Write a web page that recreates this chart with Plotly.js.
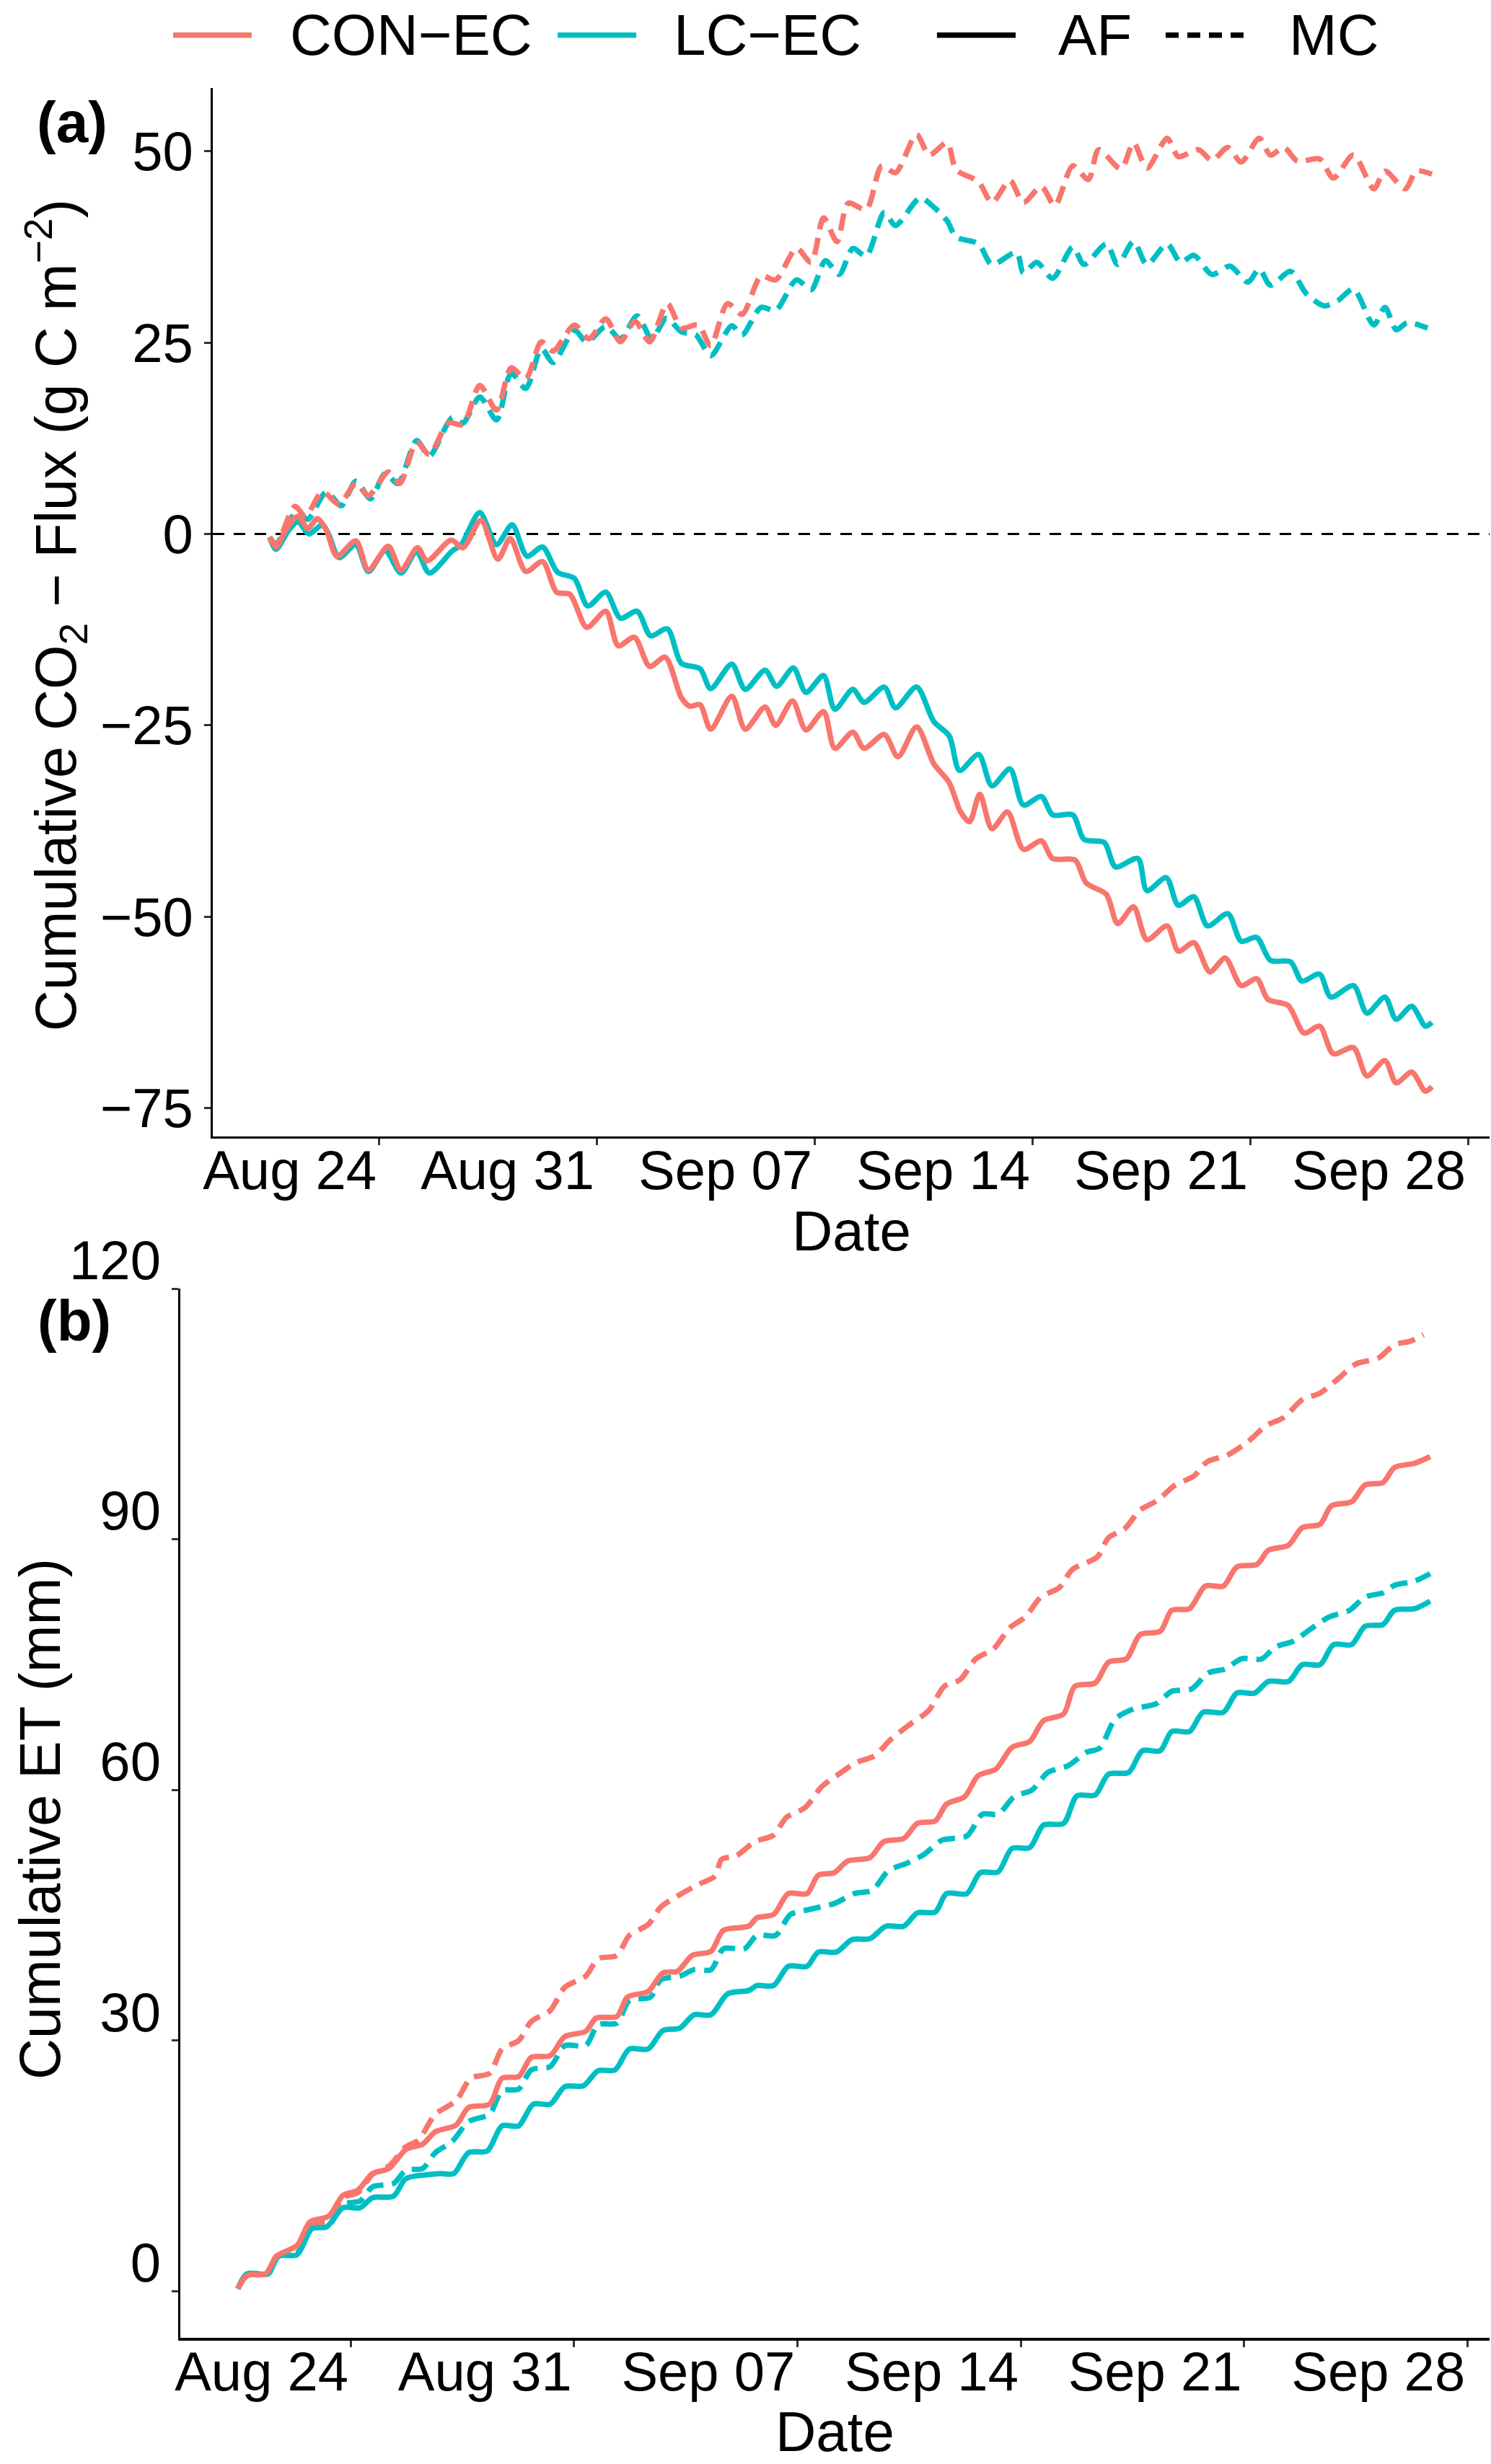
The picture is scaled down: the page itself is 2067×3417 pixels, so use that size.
<!DOCTYPE html>
<html>
<head>
<meta charset="utf-8">
<script src="https://cdn.plot.ly/plotly-3.0.1.min.js"></script>
<style>
  html, body { margin: 0; padding: 0; background: #fff; }
  #chart { width: 2067px; height: 3417px; }
</style>
</head>
<body>
<div id="chart"></div>
<script>
// Cumulative CO2 flux (a) and cumulative ET (b) for CON-EC / LC-EC, AF vs MC
// x values are days after Aug 24 00:00

const dateTicks = [0, 7, 14, 21, 28, 35];
const dateLabels = ['Aug 24', 'Aug 31', 'Sep 07', 'Sep 14', 'Sep 21', 'Sep 28'];

// (a) cumulative CO2 flux, g C m-2
const co2ConAfDay = [-3.51, -3.31, -2.97, -2.6, -2.29, -1.98, -1.69, -1.35, -0.74, -0.34,
    0.30, 0.71, 1.24, 1.55, 2.32, 2.70, 3.28, 3.82, 4.22, 4.72,
    5.26, 5.71, 6.14, 6.68, 7.29, 7.69, 8.21, 8.70, 9.20, 9.72,
    9.99, 10.32, 10.66, 11.34, 11.77, 12.41, 12.75, 13.29, 13.72,
    14.29, 14.65, 15.23, 15.59, 16.24, 16.68, 17.28, 17.83, 18.33, 18.69,
    18.98, 19.31, 19.70, 20.20, 20.71, 21.29, 21.65, 22.37, 22.73, 23.38,
    23.74, 24.25, 24.68, 25.33, 25.69, 26.19, 26.70, 27.20, 27.71, 28.21,
    28.57, 29.22, 29.73, 30.23, 30.67, 31.32, 31.75, 32.33, 32.69, 33.19,
    33.63, 33.84];
const co2ConAfVal = [-0.4, -1.7, 0.7, 2.3, 0.7, 2.0, 0.5, -2.9, -0.9, -4.7,
    -1.6, -4.7, -1.8, -3.5, -0.8, -1.8, 1.8, -3.3, -0.6, -4.9,
    -3.6, -7.6, -7.9, -12.2, -10.1, -14.6, -13.5, -17.3, -16.1, -21.4,
    -22.5, -22.3, -25.5, -21.2, -25.5, -22.6, -25.0, -21.8, -25.6,
    -23.2, -28.0, -25.9, -28.0, -26.2, -29.1, -25.2, -30.0, -32.5, -36.3,
    -37.6, -34.0, -38.5, -36.3, -41.2, -40.1, -42.4, -42.6, -45.6, -47.1,
    -50.9, -48.7, -53.0, -51.2, -54.5, -53.4, -57.2, -55.4, -59.0, -58.1,
    -60.8, -61.6, -65.2, -64.3, -67.9, -67.1, -70.8, -68.8, -71.7, -70.3,
    -72.8, -72.2];

const co2LcAfDay = [-3.51, -3.31, -2.90, -2.60, -2.25, -1.82, -1.62, -1.28, -0.74, -0.34,
    0.20, 0.71, 1.21, 1.62, 2.36, 2.63, 3.24, 3.78, 4.28, 4.76,
    5.26, 5.74, 6.28, 6.71, 7.29, 7.76, 8.30, 8.73, 9.27, 9.72,
    10.32, 10.66, 11.34, 11.77, 12.41, 12.78, 13.32, 13.72,
    14.29, 14.65, 15.23, 15.59, 16.24, 16.60, 17.28, 17.83, 18.33, 18.66,
    19.27, 19.70, 20.28, 20.71, 21.29, 21.65, 22.30, 22.66, 23.31, 23.67,
    24.39, 24.68, 25.30, 25.69, 26.19, 26.63, 27.28, 27.71, 28.21, 28.65,
    29.30, 29.66, 30.23, 30.59, 31.32, 31.75, 32.33, 32.69, 33.19, 33.63, 33.84];
const co2LcAfVal = [-0.4, -2.0, 0.5, 1.6, 0.0, 1.2, 0.0, -3.1, -1.4, -4.9,
    -2.2, -5.1, -2.3, -5.1, -2.2, -1.5, 2.8, -1.4, 1.2, -2.9,
    -1.7, -5.0, -5.8, -9.4, -7.6, -11.0, -10.1, -13.3, -12.4, -16.9,
    -17.6, -20.2, -17.0, -20.3, -17.8, -19.9, -17.5, -20.7,
    -18.5, -22.9, -20.3, -22.0, -20.0, -22.7, -20.0, -24.5, -26.4, -30.9,
    -28.8, -32.9, -30.7, -35.4, -34.3, -36.7, -36.7, -39.9, -40.3, -43.5,
    -42.4, -46.6, -44.9, -48.5, -47.4, -51.2, -49.6, -53.2, -52.7, -55.7,
    -55.9, -58.4, -57.5, -60.5, -59.0, -62.6, -60.5, -63.4, -61.7, -64.3, -63.8];

const co2ConMcDay = [-3.51, -3.31, -2.70, -2.36, -1.82, -1.28, -0.74, -0.34, 0.30, 0.67,
    1.21, 1.62, 2.23, 2.70, 3.24, 3.78, 4.25, 4.72, 5.22, 5.60,
    6.28, 6.75, 7.29, 7.76, 8.23, 8.70, 9.27, 9.72, 10.26, 10.66,
    11.20, 11.67, 12.28, 12.75, 13.42, 13.89,
    14.29, 14.72, 15.08, 15.66, 16.16, 16.60, 17.28, 17.68, 18.26, 18.55,
    19.27, 19.70, 20.28, 20.71, 21.29, 21.72, 22.30, 22.80, 23.13, 23.85,
    24.25, 24.68, 25.33, 25.69, 26.34, 26.77, 27.28, 27.71, 28.29, 28.65,
    29.08, 29.52, 30.23, 30.67, 31.32, 31.97, 32.33, 32.98, 33.34, 33.84];
const co2ConMcVal = [-0.4, -1.5, 3.6, 2.3, 5.5, 3.9, 6.6, 5.0, 8.1, 6.6,
    12.0, 10.4, 14.5, 14.3, 19.4, 16.2, 21.7, 20.3, 25.1, 23.9,
    27.3, 25.5, 28.1, 25.1, 27.8, 25.1, 30.1, 26.9, 27.3, 24.6,
    30.1, 28.7, 33.7, 33.2, 37.3, 35.5,
    41.3, 38.2, 43.2, 42.4, 48.1, 47.2, 52.2, 49.5, 51.1, 47.6,
    46.0, 43.3, 46.2, 43.3, 45.4, 42.9, 48.1, 46.3, 50.2, 47.7,
    51.1, 47.8, 51.7, 49.3, 50.2, 48.8, 50.5, 48.6, 51.7, 49.5,
    50.5, 48.7, 49.0, 46.5, 49.5, 45.1, 47.4, 45.1, 47.4, 47.0];

const co2LcMcDay = [-3.51, -3.31, -2.63, -2.29, -1.69, -1.21, -0.74, -0.27, 0.20, 0.61,
    1.21, 1.62, 2.36, 2.70, 3.24, 3.78, 4.25, 4.72, 5.22, 5.60,
    6.28, 6.68, 7.29, 7.76, 8.30, 8.77, 9.24, 9.72, 10.19, 10.66,
    11.34, 11.67, 12.28, 12.75, 13.42, 13.89,
    14.35, 14.79, 15.23, 15.66, 16.24, 16.60, 17.39, 17.83, 18.26, 18.55,
    19.27, 19.70, 20.49, 20.71, 21.14, 21.65, 22.30, 22.66, 23.38, 23.74,
    24.25, 24.68, 25.33, 25.76, 26.19, 26.77, 27.35, 27.92, 28.29, 28.65,
    29.30, 29.80, 30.38, 30.82, 31.32, 31.97, 32.33, 32.69, 33.05, 33.70];
const co2LcMcVal = [-0.4, -1.3, 3.0, 1.9, 5.5, 3.7, 6.9, 4.6, 7.9, 6.6,
    12.2, 10.2, 15.2, 14.5, 17.9, 14.9, 21.0, 19.0, 24.2, 22.4,
    26.6, 25.1, 27.1, 25.5, 28.5, 25.5, 28.2, 26.4, 26.0, 23.3,
    27.2, 26.0, 29.6, 29.2, 33.2, 31.9,
    35.7, 33.9, 37.3, 36.3, 42.0, 40.3, 43.9, 42.7, 40.9, 38.8,
    37.9, 35.2, 36.8, 34.1, 35.5, 33.4, 37.5, 35.2, 37.9, 35.2,
    38.2, 35.2, 37.9, 35.5, 36.4, 33.9, 35.0, 32.9, 34.6, 32.5,
    34.3, 31.4, 29.8, 30.5, 32.0, 27.3, 29.6, 26.7, 27.6, 26.9];

// (b) cumulative ET, mm
const etConAfDay = [-3.54, -3.25, -2.66, -2.33, -1.68, -1.28, -0.69, -0.24, 0.22, 0.68,
    1.20, 1.73, 2.25, 2.65, 3.30, 3.69, 4.35, 4.74, 5.26, 5.66,
    6.25, 6.71, 7.36, 7.69, 8.34, 8.67, 9.32, 9.78, 10.24, 10.70,
    11.29, 11.68, 12.47, 12.73, 13.25, 13.71, 14.30,
    14.65, 15.15, 15.57, 16.27, 16.70, 17.33, 17.76, 18.32, 18.67, 19.24,
    19.66, 20.22, 20.72, 21.28, 21.71, 22.34, 22.69, 23.33, 23.75, 24.31,
    24.74, 25.37, 25.73, 26.29, 26.78, 27.35, 27.77, 28.40, 28.76, 29.39,
    29.82, 30.38, 30.73, 31.37, 31.79, 32.35, 32.71, 33.34, 33.83];
const etConAfVal = [0.3, 1.9, 2.1, 4.2, 5.5, 8.3, 9.0, 11.5, 12.1, 14.1,
    14.7, 17.0, 17.6, 19.1, 19.9, 22.0, 22.4, 25.5, 25.7, 28.0,
    28.2, 30.5, 31.1, 32.7, 32.9, 35.2, 35.9, 38.1, 38.3, 40.2,
    40.7, 43.2, 43.7, 44.7, 45.1, 47.6, 47.6,
    49.8, 50.1, 51.5, 51.9, 53.8, 54.2, 56.0, 56.3, 58.3, 59.2,
    61.7, 62.5, 65.1, 65.8, 68.3, 69.1, 72.4, 72.8, 75.3, 75.7,
    78.6, 79.0, 81.5, 81.7, 84.4, 84.4, 86.7, 87.0, 88.7, 89.3,
    91.4, 91.8, 94.0, 94.5, 96.5, 96.8, 98.6, 99.1, 99.9];

const etLcAfDay = [-3.54, -3.25, -2.59, -2.27, -1.68, -1.22, -0.76, -0.24, 0.29, 0.68,
    1.34, 1.73, 2.51, 2.78, 3.23, 3.69, 4.28, 4.74, 5.26, 5.72,
    6.25, 6.71, 7.29, 7.75, 8.28, 8.73, 9.32, 9.78, 10.31, 10.76,
    11.29, 11.81, 12.47, 12.73, 13.25, 13.71, 14.30,
    14.65, 15.22, 15.71, 16.27, 16.77, 17.33, 17.76, 18.32, 18.67, 19.31,
    19.73, 20.29, 20.72, 21.28, 21.71, 22.34, 22.76, 23.33, 23.75, 24.38,
    24.81, 25.37, 25.73, 26.29, 26.71, 27.35, 27.77, 28.33, 28.76, 29.39,
    29.82, 30.38, 30.80, 31.37, 31.79, 32.35, 32.71, 33.34, 33.83];
const etLcAfVal = [0.3, 2.1, 2.1, 4.2, 4.4, 7.5, 7.7, 10.0, 10.0, 11.2,
    11.4, 13.5, 14.0, 14.1, 14.1, 16.6, 16.8, 19.8, 19.8, 22.4,
    22.4, 24.5, 24.6, 26.4, 26.5, 29.0, 29.0, 31.2, 31.5, 33.1,
    33.1, 35.6, 36.0, 36.6, 36.6, 38.9, 38.9,
    40.6, 40.6, 42.1, 42.2, 43.7, 43.7, 45.3, 45.4, 47.6, 47.6,
    50.1, 50.2, 53.0, 53.1, 55.8, 56.0, 59.3, 59.4, 61.9, 62.1,
    64.7, 64.7, 67.0, 67.0, 69.3, 69.3, 71.6, 71.6, 73.0, 73.0,
    75.0, 75.0, 77.4, 77.4, 79.6, 79.8, 81.5, 81.7, 82.6];

const etConMcDay = [-3.54, -3.25, -2.66, -2.33, -1.68, -1.28, -0.69, -0.24, 0.22, 0.68,
    1.20, 1.73, 2.12, 2.65, 3.30, 3.76, 4.35, 4.74, 5.26, 5.66,
    6.25, 6.71, 7.36, 7.75, 8.34, 8.73, 9.32, 9.72, 10.37, 10.90,
    11.42, 11.62, 12.07, 12.66, 13.25, 13.65, 14.24, 14.76,
    15.22, 15.85, 16.42, 16.91, 17.54, 18.11, 18.60, 19.10, 19.59, 20.15,
    20.65, 21.14, 21.63, 22.20, 22.62, 23.40, 23.75, 24.24, 24.74, 25.30,
    25.80, 26.43, 26.85, 27.49, 28.12, 28.69, 29.25, 29.82, 30.38, 30.94,
    31.51, 32.21, 32.71, 33.20, 33.62];
const etConMcVal = [0.3, 1.9, 2.1, 4.2, 5.2, 8.1, 8.3, 11.2, 11.8, 14.0,
    15.0, 17.3, 18.1, 21.2, 22.8, 25.5, 26.1, 29.0, 30.0, 32.3,
    33.6, 36.4, 37.7, 39.8, 40.2, 42.6, 43.9, 46.0, 47.6, 48.7,
    49.7, 51.7, 52.1, 53.8, 54.6, 56.7, 57.9, 60.4,
    61.7, 63.3, 64.1, 66.0, 67.9, 69.5, 72.4, 73.2, 75.7, 76.9,
    79.4, 80.7, 83.1, 84.2, 86.4, 87.9, 90.2, 91.2, 93.5, 94.7,
    96.4, 97.6, 99.3, 100.1, 101.7, 103.6, 104.6, 106.7, 107.5, 109.2,
    111.0, 111.7, 113.3, 113.7, 114.5];

const etLcMcDay = [-3.54, -3.25, -2.59, -2.27, -1.68, -1.22, -0.69, -0.24, 0.29, 0.68,
    1.34, 1.73, 2.25, 2.65, 3.17, 3.69, 4.35, 4.74, 5.26, 5.66,
    6.25, 6.71, 7.36, 7.75, 8.34, 8.73, 9.39, 9.72, 10.31, 10.76,
    11.29, 11.68, 12.34, 12.73, 13.32, 13.78, 14.37,
    15.15, 15.78, 16.35, 16.84, 17.47, 17.97, 18.53, 19.31, 19.80, 20.29,
    20.79, 21.35, 21.85, 22.48, 23.05, 23.47, 23.96, 24.53, 25.23, 25.73,
    26.36, 26.86, 27.42, 27.91, 28.55, 28.97, 29.53, 30.10, 30.66, 31.30,
    31.79, 32.35, 32.71, 33.34, 33.83];
const etLcMcVal = [0.3, 2.1, 2.1, 4.2, 4.6, 7.7, 7.9, 10.4, 10.8, 12.5,
    12.9, 14.5, 14.7, 16.6, 17.9, 20.3, 21.2, 24.0, 24.2, 26.5,
    26.9, 29.4, 29.4, 31.9, 32.1, 34.8, 35.2, 37.3, 37.7, 38.5,
    38.5, 41.0, 41.0, 42.6, 42.6, 45.1, 45.7,
    46.4, 47.6, 48.0, 50.3, 51.3, 52.3, 54.0, 54.5, 57.1, 57.1,
    59.2, 60.0, 62.1, 62.9, 64.5, 65.0, 68.5, 69.7, 70.3, 71.8,
    72.1, 74.0, 74.5, 75.7, 75.7, 77.1, 77.8, 79.3, 80.7, 81.5,
    83.1, 83.6, 84.5, 85.0, 85.9];

const FONT = 'Liberation Sans, Arial, Helvetica, sans-serif';
const CON_COLOR = '#F8766D';
const LC_COLOR = '#00BFC4';
const MC_DASH = '24px,12px';

function lineTrace(x, y, color, dash, xa, ya) {
    return {
        x: x,
        y: y,
        type: 'scatter',
        mode: 'lines',
        line: { color: color, width: 7.5, dash: dash, shape: 'spline', smoothing: 0.8 },
        xaxis: xa,
        yaxis: ya,
        showlegend: false,
        hoverinfo: 'skip'
    };
}

function dateAxis(domain, anchor) {
    return {
        domain: domain,
        anchor: anchor,
        range: [-5.34, 35.69],
        tickvals: dateTicks,
        ticktext: dateLabels,
        ticks: 'outside',
        ticklen: 9,
        tickwidth: 3,
        tickcolor: '#333',
        ticklabelposition: 'outside left',
        ticklabelstandoff: -22,
        tickfont: { family: FONT, size: 76, color: '#000' },
        showline: true,
        linecolor: '#000',
        linewidth: 3.5,
        showgrid: false,
        zeroline: false
    };
}

function valueAxis(domain, anchor, range, dtick) {
    return {
        domain: domain,
        anchor: anchor,
        range: range,
        tick0: 0,
        dtick: dtick,
        ticks: 'outside',
        ticklen: 9,
        tickwidth: 3,
        tickcolor: '#333',
        tickfont: { family: FONT, size: 76, color: '#000' },
        showline: true,
        linecolor: '#000',
        linewidth: 3,
        showgrid: false,
        zeroline: false
    };
}

const traces = [
    lineTrace(co2LcMcDay, co2LcMcVal, LC_COLOR, MC_DASH, 'x', 'y'),
    lineTrace(co2ConMcDay, co2ConMcVal, CON_COLOR, MC_DASH, 'x', 'y'),
    lineTrace(co2LcAfDay, co2LcAfVal, LC_COLOR, 'solid', 'x', 'y'),
    lineTrace(co2ConAfDay, co2ConAfVal, CON_COLOR, 'solid', 'x', 'y'),
    lineTrace(etLcMcDay, etLcMcVal, LC_COLOR, MC_DASH, 'x2', 'y2'),
    lineTrace(etConMcDay, etConMcVal, CON_COLOR, MC_DASH, 'x2', 'y2'),
    lineTrace(etLcAfDay, etLcAfVal, LC_COLOR, 'solid', 'x2', 'y2'),
    lineTrace(etConAfDay, etConAfVal, CON_COLOR, 'solid', 'x2', 'y2')
];

// hand-made legend row (ggplot style long keys)
const legendY = 0.9857;
const legendItems = [
    { label: 'CON−EC', color: CON_COLOR, dash: 'solid', x0: 0.1161, x1: 0.1688, tx: 0.1935 },
    { label: 'LC−EC', color: LC_COLOR, dash: 'solid', x0: 0.3740, x1: 0.4267, tx: 0.4509 },
    { label: 'AF', color: '#000', dash: 'solid', x0: 0.6284, x1: 0.6812, tx: 0.7088 },
    { label: 'MC', color: '#000', dash: '18px,12px', x0: 0.7818, x1: 0.8360, tx: 0.8636 }
];

const shapes = [{
    type: 'line', xref: 'x domain', yref: 'y',
    x0: 0, x1: 1, y0: 0, y1: 0,
    line: { color: '#000', width: 3, dash: '16px,13px' },
    layer: 'below'
}];
const annotations = [];

legendItems.forEach(item => {
    shapes.push({
        type: 'line', xref: 'paper', yref: 'paper',
        x0: item.x0, x1: item.x1, y0: legendY, y1: legendY,
        line: { color: item.color, width: 7.5, dash: item.dash }
    });
    annotations.push({
        text: item.label, xref: 'paper', yref: 'paper',
        x: item.tx, y: legendY, xanchor: 'left', yanchor: 'middle',
        showarrow: false, font: { family: FONT, size: 80, color: '#000' }
    });
});

const textNotes = [
    { text: '<b>(a)</b>', x: 0.0484, y: 0.9505, size: 80, angle: 0 },
    { text: '<b>(b)</b>', x: 0.0498, y: 0.4639, size: 80, angle: 0 },
    { text: 'Cumulative CO<sub>2</sub> − Flux (g C m<sup>−2</sup>)', x: 0.0377, y: 0.7503, size: 79, angle: -90 },
    { text: 'Cumulative ET (mm)', x: 0.0266, y: 0.2619, size: 79, angle: -90 },
    { text: 'Date', x: 0.5711, y: 0.5005, size: 78, angle: 0 },
    { text: 'Date', x: 0.5602, y: 0.0132, size: 78, angle: 0 }
];

textNotes.forEach(n => {
    annotations.push({
        text: n.text, xref: 'paper', yref: 'paper',
        x: n.x, y: n.y, xanchor: 'center', yanchor: 'middle',
        textangle: n.angle, showarrow: false,
        font: { family: FONT, size: n.size, color: '#000' }
    });
});

const layout = {
    width: 2067,
    height: 3417,
    autosize: false,
    margin: { l: 0, r: 0, t: 0, b: 0 },
    paper_bgcolor: '#ffffff',
    plot_bgcolor: '#ffffff',
    font: { family: FONT, size: 76, color: '#000' },
    showlegend: false,
    xaxis: dateAxis([0.1427, 0.9990], 'y'),
    yaxis: valueAxis([0.5388, 0.9644], 'x', [-78.7, 58.3], 25),
    xaxis2: dateAxis([0.1210, 0.9990], 'y2'),
    yaxis2: Object.assign(valueAxis([0.0512, 0.4770], 'x2', [-5.57, 120], 30), { ticklabelshift: -40 }),
    shapes: shapes,
    annotations: annotations
};

Plotly.newPlot('chart', traces, layout, { staticPlot: true, displayModeBar: false });
</script>
</body>
</html>
